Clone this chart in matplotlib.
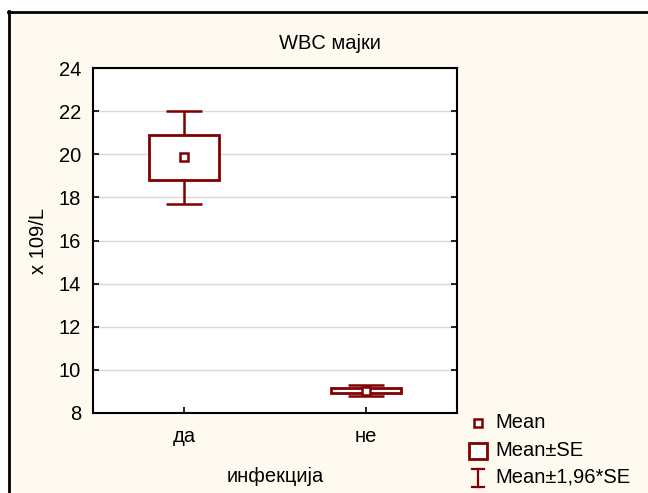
import matplotlib
matplotlib.use("Agg")
import matplotlib.pyplot as plt
from matplotlib.patches import Rectangle
from matplotlib.lines import Line2D

# values
groups = ["да", "не"]
means = [19.87, 9.04]
se_low = [18.80, 8.92]
se_high = [20.90, 9.17]
ci_low = [17.70, 8.78]
ci_high = [22.00, 9.32]
yticks = [8, 10, 12, 14, 16, 18, 20, 22, 24]

dark_red = "#800000"
cream = "#fffaf0"
fs = 14.5
plt.rcParams['font.family'] = ['Liberation Sans', 'DejaVu Sans']

W, H = 648, 493
fig = plt.figure(figsize=(W / 100, H / 100), dpi=100)
fig.patch.set_facecolor("white")

def fx(px):
    return px / W

def fy(py):
    return 1 - py / H

# cream panel with black border on left and top
fig.add_artist(Rectangle((fx(8.5), 0), 1.1, fy(12), transform=fig.transFigure,
                         facecolor=cream, edgecolor="none", zorder=-5))
fig.add_artist(Line2D([fx(8.5), fx(8.5)], [0, fy(11)], transform=fig.transFigure,
                      color="black", lw=2.0))
fig.add_artist(Line2D([fx(7.5), 1.0], [fy(12), fy(12)], transform=fig.transFigure,
                      color="black", lw=2.0))

ax = fig.add_axes([fx(93), fy(413), (457 - 93) / W, (413 - 68) / H])
ax.set_facecolor("white")

box_w = 0.39
cap_w = 0.20
pos = [1, 2]
for i, p in enumerate(pos):
    ax.vlines(p, ci_low[i], se_low[i], color=dark_red, lw=1.8, zorder=3)
    ax.vlines(p, se_high[i], ci_high[i], color=dark_red, lw=1.8, zorder=3)
    ax.hlines([ci_low[i], ci_high[i]], p - cap_w / 2, p + cap_w / 2,
              color=dark_red, lw=1.8, zorder=3)
    ax.add_patch(Rectangle((p - box_w / 2, se_low[i]), box_w, se_high[i] - se_low[i],
                           facecolor="white", edgecolor=dark_red, lw=2.0, zorder=4))
ax.plot(pos, means, linestyle="none", marker="s", markersize=6,
        markerfacecolor="white", markeredgecolor=dark_red, markeredgewidth=1.8, zorder=5)

ax.set_xlim(0.5, 2.5)
ax.set_ylim(8, 24)
ax.set_yticks(yticks)
ax.set_xticks(pos)
ax.set_xticklabels(groups)
ax.grid(axis="y", color="#d9d9d9", lw=1.0)
ax.set_axisbelow(True)
ax.tick_params(axis="y", direction="in", length=4, width=1.2, left=True, right=True,
               labelsize=fs, pad=8.5)
ax.tick_params(axis="x", direction="in", length=4, width=1.2, labelsize=fs, pad=10)
for s in ax.spines.values():
    s.set_linewidth(1.5)

ax.set_xlabel("инфекција", fontsize=fs, labelpad=15)
ax.set_ylabel("x 109/L", fontsize=fs, labelpad=8)
fig.text(fx(330), fy(43), "WBC мајки", ha="center", va="center", fontsize=fs)

# legend drawn by hand
fig.add_artist(Rectangle((fx(473.5), fy(427)), 8 / W, 8 / H, transform=fig.transFigure,
                         facecolor="white", edgecolor=dark_red, lw=1.8))
fig.add_artist(Rectangle((fx(468.5), fy(459)), 18 / W, 16 / H, transform=fig.transFigure,
                         facecolor="white", edgecolor=dark_red, lw=2.0))
fig.add_artist(Line2D([fx(478), fx(478)], [fy(469), fy(487)], transform=fig.transFigure,
                      color=dark_red, lw=1.6))
for yy in (469, 487):
    fig.add_artist(Line2D([fx(472), fx(484)], [fy(yy), fy(yy)], transform=fig.transFigure,
                          color=dark_red, lw=1.6))
for yy, txt in [(423, "Mean"), (450, "Mean±SE"), (477, "Mean±1,96*SE")]:
    fig.text(fx(495), fy(yy), txt, ha="left", va="center", fontsize=fs)

fig.savefig("out.png", dpi=100)
